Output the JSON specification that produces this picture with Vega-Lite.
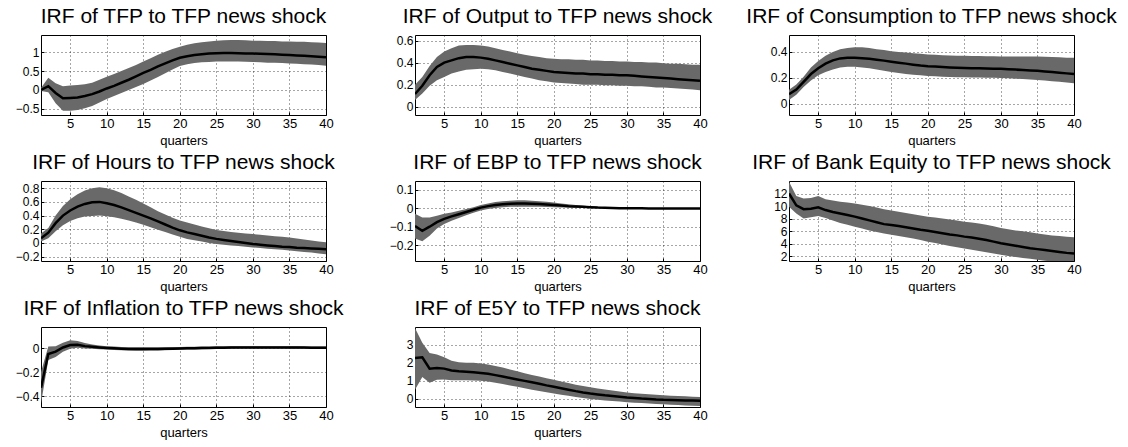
{
  "$schema": "https://vega.github.io/schema/vega-lite/v6.json",
  "padding": {"left": 14, "top": 5, "right": 0, "bottom": 0},
  "background": "white",
  "bounds": "flush",
  "columns": 3,
  "spacing": {"row": 66, "column": 89},
  "config": {
    "view": {"stroke": "black", "strokeWidth": 1},
    "font": "Liberation Sans",
    "title": {"font": "Liberation Sans", "fontSize": 21, "fontWeight": "normal", "color": "black", "offset": 8},
    "axis": {
      "domain": false, "grid": true, "gridDash": [1, 3], "gridColor": "#000", "gridOpacity": 0.7,
      "ticks": true, "tickSize": -3, "tickColor": "black", "tickCount": 12,
      "labelFont": "Liberation Sans", "labelFontSize": 13, "labelColor": "black", "labelPadding": 5, "labelFlush": false, "labelOverlap": false,
      "titleFont": "Liberation Sans", "titleFontSize": 13, "titleFontWeight": "normal", "titleColor": "black", "titlePadding": 4
    },
    "axisY": {"format": "~g", "labelPadding": 5, "labelFontSize": 12}
  },
  "datasets": {
    "tfp": [
      {"q":1,"m":0.0,"lo":-0.03,"hi":0.05},{"q":2,"m":0.1,"lo":-0.06,"hi":0.32},{"q":3,"m":-0.08,"lo":-0.35,"hi":0.18},{"q":4,"m":-0.22,"lo":-0.55,"hi":0.1},
      {"q":5,"m":-0.21,"lo":-0.55,"hi":0.12},{"q":6,"m":-0.2,"lo":-0.53,"hi":0.13},{"q":7,"m":-0.16,"lo":-0.48,"hi":0.15},{"q":8,"m":-0.11,"lo":-0.42,"hi":0.19},
      {"q":9,"m":-0.04,"lo":-0.33,"hi":0.27},{"q":10,"m":0.04,"lo":-0.24,"hi":0.35},{"q":11,"m":0.11,"lo":-0.16,"hi":0.42},{"q":12,"m":0.19,"lo":-0.08,"hi":0.5},
      {"q":13,"m":0.27,"lo":0.0,"hi":0.58},{"q":14,"m":0.36,"lo":0.08,"hi":0.66},{"q":15,"m":0.45,"lo":0.16,"hi":0.75},{"q":16,"m":0.53,"lo":0.25,"hi":0.84},
      {"q":17,"m":0.62,"lo":0.34,"hi":0.93},{"q":18,"m":0.7,"lo":0.44,"hi":1.01},{"q":19,"m":0.78,"lo":0.54,"hi":1.08},{"q":20,"m":0.85,"lo":0.63,"hi":1.14},
      {"q":21,"m":0.89,"lo":0.68,"hi":1.19},{"q":22,"m":0.92,"lo":0.71,"hi":1.23},{"q":23,"m":0.94,"lo":0.73,"hi":1.26},{"q":24,"m":0.96,"lo":0.74,"hi":1.28},
      {"q":25,"m":0.97,"lo":0.75,"hi":1.3},{"q":26,"m":0.975,"lo":0.75,"hi":1.31},{"q":27,"m":0.975,"lo":0.75,"hi":1.32},{"q":28,"m":0.97,"lo":0.75,"hi":1.32},
      {"q":29,"m":0.965,"lo":0.745,"hi":1.31},{"q":30,"m":0.96,"lo":0.74,"hi":1.3},{"q":31,"m":0.955,"lo":0.73,"hi":1.3},{"q":32,"m":0.95,"lo":0.72,"hi":1.29},
      {"q":33,"m":0.94,"lo":0.715,"hi":1.29},{"q":34,"m":0.93,"lo":0.71,"hi":1.28},{"q":35,"m":0.92,"lo":0.7,"hi":1.28},{"q":36,"m":0.91,"lo":0.69,"hi":1.27},
      {"q":37,"m":0.9,"lo":0.68,"hi":1.27},{"q":38,"m":0.89,"lo":0.67,"hi":1.26},{"q":39,"m":0.875,"lo":0.66,"hi":1.25},{"q":40,"m":0.86,"lo":0.64,"hi":1.24}
    ],
    "output": [
      {"q":1,"m":0.115,"lo":0.06,"hi":0.2},{"q":2,"m":0.19,"lo":0.12,"hi":0.27},{"q":3,"m":0.285,"lo":0.19,"hi":0.37},{"q":4,"m":0.36,"lo":0.24,"hi":0.45},
      {"q":5,"m":0.4,"lo":0.27,"hi":0.5},{"q":6,"m":0.42,"lo":0.3,"hi":0.53},{"q":7,"m":0.44,"lo":0.32,"hi":0.555},{"q":8,"m":0.45,"lo":0.335,"hi":0.56},
      {"q":9,"m":0.45,"lo":0.34,"hi":0.56},{"q":10,"m":0.445,"lo":0.345,"hi":0.555},{"q":11,"m":0.435,"lo":0.34,"hi":0.545},{"q":12,"m":0.42,"lo":0.33,"hi":0.53},
      {"q":13,"m":0.405,"lo":0.315,"hi":0.515},{"q":14,"m":0.39,"lo":0.3,"hi":0.5},{"q":15,"m":0.375,"lo":0.285,"hi":0.485},{"q":16,"m":0.36,"lo":0.27,"hi":0.47},
      {"q":17,"m":0.345,"lo":0.255,"hi":0.46},{"q":18,"m":0.335,"lo":0.24,"hi":0.45},{"q":19,"m":0.325,"lo":0.23,"hi":0.44},{"q":20,"m":0.315,"lo":0.22,"hi":0.435},
      {"q":21,"m":0.31,"lo":0.215,"hi":0.43},{"q":22,"m":0.305,"lo":0.21,"hi":0.43},{"q":23,"m":0.3,"lo":0.205,"hi":0.425},{"q":24,"m":0.3,"lo":0.2,"hi":0.425},
      {"q":25,"m":0.295,"lo":0.2,"hi":0.42},{"q":26,"m":0.295,"lo":0.2,"hi":0.42},{"q":27,"m":0.29,"lo":0.195,"hi":0.415},{"q":28,"m":0.29,"lo":0.195,"hi":0.415},
      {"q":29,"m":0.285,"lo":0.19,"hi":0.41},{"q":30,"m":0.285,"lo":0.19,"hi":0.41},{"q":31,"m":0.28,"lo":0.185,"hi":0.405},{"q":32,"m":0.275,"lo":0.185,"hi":0.405},
      {"q":33,"m":0.27,"lo":0.18,"hi":0.4},{"q":34,"m":0.265,"lo":0.175,"hi":0.4},{"q":35,"m":0.26,"lo":0.175,"hi":0.395},{"q":36,"m":0.255,"lo":0.17,"hi":0.39},
      {"q":37,"m":0.25,"lo":0.165,"hi":0.39},{"q":38,"m":0.245,"lo":0.16,"hi":0.385},{"q":39,"m":0.24,"lo":0.155,"hi":0.38},{"q":40,"m":0.235,"lo":0.15,"hi":0.38}
    ],
    "cons": [
      {"q":1,"m":0.075,"lo":0.03,"hi":0.11},{"q":2,"m":0.11,"lo":0.07,"hi":0.15},{"q":3,"m":0.17,"lo":0.13,"hi":0.21},{"q":4,"m":0.23,"lo":0.18,"hi":0.28},
      {"q":5,"m":0.275,"lo":0.22,"hi":0.33},{"q":6,"m":0.31,"lo":0.245,"hi":0.37},{"q":7,"m":0.335,"lo":0.265,"hi":0.4},{"q":8,"m":0.35,"lo":0.28,"hi":0.42},
      {"q":9,"m":0.355,"lo":0.285,"hi":0.43},{"q":10,"m":0.355,"lo":0.285,"hi":0.435},{"q":11,"m":0.352,"lo":0.28,"hi":0.435},{"q":12,"m":0.347,"lo":0.275,"hi":0.43},
      {"q":13,"m":0.34,"lo":0.265,"hi":0.42},{"q":14,"m":0.333,"lo":0.255,"hi":0.415},{"q":15,"m":0.325,"lo":0.245,"hi":0.405},{"q":16,"m":0.317,"lo":0.237,"hi":0.4},
      {"q":17,"m":0.31,"lo":0.23,"hi":0.395},{"q":18,"m":0.302,"lo":0.225,"hi":0.39},{"q":19,"m":0.295,"lo":0.22,"hi":0.385},{"q":20,"m":0.29,"lo":0.215,"hi":0.38},
      {"q":21,"m":0.287,"lo":0.212,"hi":0.378},{"q":22,"m":0.284,"lo":0.21,"hi":0.375},{"q":23,"m":0.281,"lo":0.208,"hi":0.372},{"q":24,"m":0.278,"lo":0.206,"hi":0.37},
      {"q":25,"m":0.276,"lo":0.205,"hi":0.37},{"q":26,"m":0.275,"lo":0.204,"hi":0.369},{"q":27,"m":0.274,"lo":0.203,"hi":0.368},{"q":28,"m":0.272,"lo":0.202,"hi":0.367},
      {"q":29,"m":0.271,"lo":0.201,"hi":0.366},{"q":30,"m":0.27,"lo":0.2,"hi":0.365},{"q":31,"m":0.267,"lo":0.197,"hi":0.365},{"q":32,"m":0.264,"lo":0.194,"hi":0.365},
      {"q":33,"m":0.261,"lo":0.191,"hi":0.365},{"q":34,"m":0.258,"lo":0.188,"hi":0.365},{"q":35,"m":0.255,"lo":0.185,"hi":0.364},{"q":36,"m":0.25,"lo":0.18,"hi":0.362},
      {"q":37,"m":0.245,"lo":0.175,"hi":0.36},{"q":38,"m":0.24,"lo":0.17,"hi":0.358},{"q":39,"m":0.235,"lo":0.165,"hi":0.356},{"q":40,"m":0.23,"lo":0.16,"hi":0.355}
    ],
    "hours": [
      {"q":1,"m":0.07,"lo":0.02,"hi":0.14},{"q":2,"m":0.15,"lo":0.07,"hi":0.22},{"q":3,"m":0.29,"lo":0.17,"hi":0.4},{"q":4,"m":0.4,"lo":0.26,"hi":0.54},
      {"q":5,"m":0.475,"lo":0.32,"hi":0.64},{"q":6,"m":0.53,"lo":0.36,"hi":0.71},{"q":7,"m":0.57,"lo":0.385,"hi":0.765},{"q":8,"m":0.595,"lo":0.395,"hi":0.8},
      {"q":9,"m":0.6,"lo":0.4,"hi":0.815},{"q":10,"m":0.58,"lo":0.39,"hi":0.8},{"q":11,"m":0.555,"lo":0.375,"hi":0.77},{"q":12,"m":0.52,"lo":0.355,"hi":0.73},
      {"q":13,"m":0.48,"lo":0.33,"hi":0.68},{"q":14,"m":0.44,"lo":0.3,"hi":0.63},{"q":15,"m":0.4,"lo":0.265,"hi":0.575},{"q":16,"m":0.36,"lo":0.23,"hi":0.52},
      {"q":17,"m":0.315,"lo":0.195,"hi":0.465},{"q":18,"m":0.27,"lo":0.16,"hi":0.415},{"q":19,"m":0.225,"lo":0.125,"hi":0.37},{"q":20,"m":0.185,"lo":0.09,"hi":0.33},
      {"q":21,"m":0.155,"lo":0.06,"hi":0.3},{"q":22,"m":0.13,"lo":0.04,"hi":0.27},{"q":23,"m":0.105,"lo":0.02,"hi":0.24},{"q":24,"m":0.08,"lo":0.0,"hi":0.215},
      {"q":25,"m":0.06,"lo":-0.015,"hi":0.19},{"q":26,"m":0.045,"lo":-0.025,"hi":0.175},{"q":27,"m":0.03,"lo":-0.035,"hi":0.16},{"q":28,"m":0.015,"lo":-0.045,"hi":0.15},
      {"q":29,"m":0.0,"lo":-0.055,"hi":0.14},{"q":30,"m":-0.015,"lo":-0.065,"hi":0.13},{"q":31,"m":-0.025,"lo":-0.075,"hi":0.12},{"q":32,"m":-0.035,"lo":-0.085,"hi":0.11},
      {"q":33,"m":-0.045,"lo":-0.09,"hi":0.1},{"q":34,"m":-0.055,"lo":-0.1,"hi":0.09},{"q":35,"m":-0.06,"lo":-0.11,"hi":0.08},{"q":36,"m":-0.07,"lo":-0.12,"hi":0.065},
      {"q":37,"m":-0.075,"lo":-0.13,"hi":0.05},{"q":38,"m":-0.08,"lo":-0.14,"hi":0.035},{"q":39,"m":-0.085,"lo":-0.155,"hi":0.02},{"q":40,"m":-0.09,"lo":-0.165,"hi":0.01}
    ],
    "ebp": [
      {"q":1,"m":-0.096,"lo":-0.165,"hi":-0.03},{"q":2,"m":-0.122,"lo":-0.18,"hi":-0.05},{"q":3,"m":-0.1,"lo":-0.15,"hi":-0.05},{"q":4,"m":-0.075,"lo":-0.11,"hi":-0.04},
      {"q":5,"m":-0.057,"lo":-0.085,"hi":-0.03},{"q":6,"m":-0.044,"lo":-0.068,"hi":-0.022},{"q":7,"m":-0.032,"lo":-0.053,"hi":-0.013},{"q":8,"m":-0.02,"lo":-0.038,"hi":-0.004},
      {"q":9,"m":-0.008,"lo":-0.024,"hi":0.006},{"q":10,"m":0.004,"lo":-0.012,"hi":0.018},{"q":11,"m":0.012,"lo":-0.004,"hi":0.027},{"q":12,"m":0.018,"lo":0.002,"hi":0.034},
      {"q":13,"m":0.022,"lo":0.006,"hi":0.039},{"q":14,"m":0.025,"lo":0.008,"hi":0.042},{"q":15,"m":0.026,"lo":0.009,"hi":0.044},{"q":16,"m":0.026,"lo":0.009,"hi":0.044},
      {"q":17,"m":0.025,"lo":0.009,"hi":0.042},{"q":18,"m":0.023,"lo":0.008,"hi":0.039},{"q":19,"m":0.021,"lo":0.007,"hi":0.036},{"q":20,"m":0.018,"lo":0.006,"hi":0.032},
      {"q":21,"m":0.015,"lo":0.005,"hi":0.027},{"q":22,"m":0.012,"lo":0.004,"hi":0.022},{"q":23,"m":0.01,"lo":0.003,"hi":0.018},{"q":24,"m":0.008,"lo":0.002,"hi":0.014},
      {"q":25,"m":0.006,"lo":0.001,"hi":0.011},{"q":26,"m":0.004,"lo":0.0,"hi":0.008},{"q":27,"m":0.003,"lo":-0.001,"hi":0.006},{"q":28,"m":0.002,"lo":-0.001,"hi":0.005},
      {"q":29,"m":0.001,"lo":-0.002,"hi":0.004},{"q":30,"m":0.0,"lo":-0.002,"hi":0.003},{"q":31,"m":0.0,"lo":-0.002,"hi":0.003},{"q":32,"m":0.0,"lo":-0.002,"hi":0.002},
      {"q":33,"m":-0.001,"lo":-0.003,"hi":0.002},{"q":34,"m":-0.001,"lo":-0.003,"hi":0.002},{"q":35,"m":-0.001,"lo":-0.003,"hi":0.002},{"q":36,"m":-0.001,"lo":-0.003,"hi":0.002},
      {"q":37,"m":-0.001,"lo":-0.003,"hi":0.002},{"q":38,"m":-0.001,"lo":-0.003,"hi":0.002},{"q":39,"m":-0.001,"lo":-0.003,"hi":0.002},{"q":40,"m":-0.001,"lo":-0.003,"hi":0.002}
    ],
    "bank": [
      {"q":1,"m":12.0,"lo":9.9,"hi":13.9},{"q":2,"m":10.1,"lo":8.8,"hi":11.6},{"q":3,"m":9.5,"lo":8.0,"hi":11.2},{"q":4,"m":9.55,"lo":8.2,"hi":11.3},
      {"q":5,"m":9.8,"lo":8.4,"hi":11.6},{"q":6,"m":9.35,"lo":8.1,"hi":11.1},{"q":7,"m":9.05,"lo":7.7,"hi":10.9},{"q":8,"m":8.8,"lo":7.3,"hi":10.7},
      {"q":9,"m":8.55,"lo":7.0,"hi":10.55},{"q":10,"m":8.3,"lo":6.7,"hi":10.4},{"q":11,"m":8.0,"lo":6.4,"hi":10.2},{"q":12,"m":7.7,"lo":6.1,"hi":10.0},
      {"q":13,"m":7.4,"lo":5.85,"hi":9.75},{"q":14,"m":7.1,"lo":5.6,"hi":9.5},{"q":15,"m":6.95,"lo":5.4,"hi":9.3},{"q":16,"m":6.8,"lo":5.2,"hi":9.1},
      {"q":17,"m":6.6,"lo":5.0,"hi":8.9},{"q":18,"m":6.4,"lo":4.8,"hi":8.7},{"q":19,"m":6.2,"lo":4.55,"hi":8.5},{"q":20,"m":6.05,"lo":4.3,"hi":8.3},
      {"q":21,"m":5.85,"lo":4.1,"hi":8.15},{"q":22,"m":5.65,"lo":3.85,"hi":8.0},{"q":23,"m":5.45,"lo":3.6,"hi":7.85},{"q":24,"m":5.3,"lo":3.4,"hi":7.7},
      {"q":25,"m":5.1,"lo":3.2,"hi":7.5},{"q":26,"m":4.95,"lo":3.0,"hi":7.35},{"q":27,"m":4.75,"lo":2.8,"hi":7.2},{"q":28,"m":4.55,"lo":2.6,"hi":7.0},
      {"q":29,"m":4.3,"lo":2.4,"hi":6.75},{"q":30,"m":4.05,"lo":2.2,"hi":6.5},{"q":31,"m":3.85,"lo":2.0,"hi":6.3},{"q":32,"m":3.65,"lo":1.85,"hi":6.1},
      {"q":33,"m":3.45,"lo":1.7,"hi":5.95},{"q":34,"m":3.25,"lo":1.55,"hi":5.8},{"q":35,"m":3.1,"lo":1.4,"hi":5.6},{"q":36,"m":2.95,"lo":1.25,"hi":5.45},
      {"q":37,"m":2.8,"lo":1.1,"hi":5.3},{"q":38,"m":2.65,"lo":0.95,"hi":5.2},{"q":39,"m":2.5,"lo":0.85,"hi":5.1},{"q":40,"m":2.4,"lo":0.75,"hi":5.0}
    ],
    "infl": [
      {"q":1,"m":-0.33,"lo":-0.46,"hi":-0.2},{"q":2,"m":-0.05,"lo":-0.1,"hi":0.012},{"q":3,"m":-0.03,"lo":-0.075,"hi":0.015},{"q":4,"m":0.005,"lo":-0.03,"hi":0.045},
      {"q":5,"m":0.025,"lo":-0.005,"hi":0.065},{"q":6,"m":0.027,"lo":0.003,"hi":0.058},{"q":7,"m":0.016,"lo":-0.003,"hi":0.042},{"q":8,"m":0.01,"lo":-0.006,"hi":0.03},
      {"q":9,"m":0.005,"lo":-0.01,"hi":0.022},{"q":10,"m":0.001,"lo":-0.013,"hi":0.016},{"q":11,"m":-0.002,"lo":-0.016,"hi":0.012},{"q":12,"m":-0.005,"lo":-0.019,"hi":0.009},
      {"q":13,"m":-0.007,"lo":-0.021,"hi":0.007},{"q":14,"m":-0.008,"lo":-0.022,"hi":0.006},{"q":15,"m":-0.008,"lo":-0.022,"hi":0.006},{"q":16,"m":-0.008,"lo":-0.021,"hi":0.006},
      {"q":17,"m":-0.007,"lo":-0.02,"hi":0.006},{"q":18,"m":-0.006,"lo":-0.018,"hi":0.007},{"q":19,"m":-0.005,"lo":-0.016,"hi":0.008},{"q":20,"m":-0.003,"lo":-0.014,"hi":0.009},
      {"q":21,"m":-0.002,"lo":-0.012,"hi":0.01},{"q":22,"m":-0.001,"lo":-0.011,"hi":0.011},{"q":23,"m":0.0,"lo":-0.009,"hi":0.012},{"q":24,"m":0.001,"lo":-0.008,"hi":0.013},
      {"q":25,"m":0.002,"lo":-0.007,"hi":0.014},{"q":26,"m":0.003,"lo":-0.006,"hi":0.015},{"q":27,"m":0.004,"lo":-0.005,"hi":0.015},{"q":28,"m":0.004,"lo":-0.004,"hi":0.016},
      {"q":29,"m":0.005,"lo":-0.004,"hi":0.016},{"q":30,"m":0.005,"lo":-0.003,"hi":0.016},{"q":31,"m":0.005,"lo":-0.003,"hi":0.016},{"q":32,"m":0.005,"lo":-0.004,"hi":0.016},
      {"q":33,"m":0.005,"lo":-0.004,"hi":0.015},{"q":34,"m":0.004,"lo":-0.004,"hi":0.015},{"q":35,"m":0.004,"lo":-0.005,"hi":0.014},{"q":36,"m":0.004,"lo":-0.005,"hi":0.014},
      {"q":37,"m":0.004,"lo":-0.005,"hi":0.013},{"q":38,"m":0.003,"lo":-0.006,"hi":0.013},{"q":39,"m":0.003,"lo":-0.006,"hi":0.012},{"q":40,"m":0.003,"lo":-0.006,"hi":0.012}
    ],
    "e5y": [
      {"q":1,"m":2.26,"lo":0.5,"hi":3.93},{"q":2,"m":2.3,"lo":1.2,"hi":3.1},{"q":3,"m":1.67,"lo":0.88,"hi":2.54},{"q":4,"m":1.7,"lo":1.05,"hi":2.45},
      {"q":5,"m":1.67,"lo":1.07,"hi":2.3},{"q":6,"m":1.57,"lo":1.03,"hi":2.1},{"q":7,"m":1.52,"lo":1.02,"hi":2.03},{"q":8,"m":1.5,"lo":1.02,"hi":2.0},
      {"q":9,"m":1.47,"lo":1.01,"hi":1.99},{"q":10,"m":1.43,"lo":0.99,"hi":1.96},{"q":11,"m":1.38,"lo":0.95,"hi":1.9},{"q":12,"m":1.31,"lo":0.89,"hi":1.82},
      {"q":13,"m":1.23,"lo":0.82,"hi":1.73},{"q":14,"m":1.15,"lo":0.74,"hi":1.62},{"q":15,"m":1.07,"lo":0.66,"hi":1.52},{"q":16,"m":0.99,"lo":0.58,"hi":1.42},
      {"q":17,"m":0.91,"lo":0.5,"hi":1.32},{"q":18,"m":0.83,"lo":0.43,"hi":1.23},{"q":19,"m":0.74,"lo":0.36,"hi":1.14},{"q":20,"m":0.66,"lo":0.29,"hi":1.05},
      {"q":21,"m":0.58,"lo":0.22,"hi":0.96},{"q":22,"m":0.5,"lo":0.16,"hi":0.87},{"q":23,"m":0.42,"lo":0.1,"hi":0.78},{"q":24,"m":0.35,"lo":0.04,"hi":0.7},
      {"q":25,"m":0.29,"lo":-0.01,"hi":0.63},{"q":26,"m":0.24,"lo":-0.06,"hi":0.57},{"q":27,"m":0.19,"lo":-0.1,"hi":0.51},{"q":28,"m":0.15,"lo":-0.13,"hi":0.45},
      {"q":29,"m":0.11,"lo":-0.16,"hi":0.4},{"q":30,"m":0.07,"lo":-0.19,"hi":0.35},{"q":31,"m":0.04,"lo":-0.22,"hi":0.31},{"q":32,"m":0.01,"lo":-0.24,"hi":0.28},
      {"q":33,"m":-0.01,"lo":-0.27,"hi":0.25},{"q":34,"m":-0.04,"lo":-0.29,"hi":0.22},{"q":35,"m":-0.06,"lo":-0.31,"hi":0.19},{"q":36,"m":-0.07,"lo":-0.33,"hi":0.17},
      {"q":37,"m":-0.085,"lo":-0.35,"hi":0.15},{"q":38,"m":-0.095,"lo":-0.37,"hi":0.13},{"q":39,"m":-0.105,"lo":-0.39,"hi":0.11},{"q":40,"m":-0.11,"lo":-0.41,"hi":0.1}
    ]
  },
  "concat": [
    {
      "title": "IRF of TFP to TFP news shock", "width": 285, "height": 80, "data": {"name": "tfp"},
      "encoding": {"x": {"field": "q", "type": "quantitative", "scale": {"domain": [1, 40], "nice": false, "zero": false}, "axis": {"title": "quarters", "values": [5,10,15,20,25,30,35,40]}}},
      "layer": [
        {"mark": {"type": "area", "color": "#696969", "opacity": 1, "clip": true}, "encoding": {"y": {"field": "lo", "type": "quantitative", "scale": {"domain": [-0.66, 1.45], "nice": false, "zero": false}, "axis": {"title": null, "values": [-0.5, 0, 0.5, 1]}}, "y2": {"field": "hi"}}},
        {"mark": {"type": "line", "color": "black", "strokeWidth": 2.5, "clip": true}, "encoding": {"y": {"field": "m", "type": "quantitative"}}}
      ]
    },
    {
      "title": "IRF of Output to TFP news shock", "width": 285, "height": 80, "data": {"name": "output"},
      "encoding": {"x": {"field": "q", "type": "quantitative", "scale": {"domain": [1, 40], "nice": false, "zero": false}, "axis": {"title": "quarters", "values": [5,10,15,20,25,30,35,40]}}},
      "layer": [
        {"mark": {"type": "area", "color": "#696969", "opacity": 1, "clip": true}, "encoding": {"y": {"field": "lo", "type": "quantitative", "scale": {"domain": [-0.075, 0.65], "nice": false, "zero": false}, "axis": {"title": null, "values": [0, 0.2, 0.4, 0.6]}}, "y2": {"field": "hi"}}},
        {"mark": {"type": "line", "color": "black", "strokeWidth": 2.5, "clip": true}, "encoding": {"y": {"field": "m", "type": "quantitative"}}}
      ]
    },
    {
      "title": "IRF of Consumption to TFP news shock", "width": 285, "height": 80, "data": {"name": "cons"},
      "encoding": {"x": {"field": "q", "type": "quantitative", "scale": {"domain": [1, 40], "nice": false, "zero": false}, "axis": {"title": "quarters", "values": [5,10,15,20,25,30,35,40]}}},
      "layer": [
        {"mark": {"type": "area", "color": "#696969", "opacity": 1, "clip": true}, "encoding": {"y": {"field": "lo", "type": "quantitative", "scale": {"domain": [-0.085, 0.53], "nice": false, "zero": false}, "axis": {"title": null, "values": [0, 0.2, 0.4]}}, "y2": {"field": "hi"}}},
        {"mark": {"type": "line", "color": "black", "strokeWidth": 2.5, "clip": true}, "encoding": {"y": {"field": "m", "type": "quantitative"}}}
      ]
    },
    {
      "title": "IRF of Hours to TFP news shock", "width": 285, "height": 80, "data": {"name": "hours"},
      "encoding": {"x": {"field": "q", "type": "quantitative", "scale": {"domain": [1, 40], "nice": false, "zero": false}, "axis": {"title": "quarters", "values": [5,10,15,20,25,30,35,40]}}},
      "layer": [
        {"mark": {"type": "area", "color": "#696969", "opacity": 1, "clip": true}, "encoding": {"y": {"field": "lo", "type": "quantitative", "scale": {"domain": [-0.263, 0.905], "nice": false, "zero": false}, "axis": {"title": null, "values": [-0.2, 0, 0.2, 0.4, 0.6, 0.8]}}, "y2": {"field": "hi"}}},
        {"mark": {"type": "line", "color": "black", "strokeWidth": 2.5, "clip": true}, "encoding": {"y": {"field": "m", "type": "quantitative"}}}
      ]
    },
    {
      "title": "IRF of EBP to TFP news shock", "width": 285, "height": 80, "data": {"name": "ebp"},
      "encoding": {"x": {"field": "q", "type": "quantitative", "scale": {"domain": [1, 40], "nice": false, "zero": false}, "axis": {"title": "quarters", "values": [5,10,15,20,25,30,35,40]}}},
      "layer": [
        {"mark": {"type": "area", "color": "#696969", "opacity": 1, "clip": true}, "encoding": {"y": {"field": "lo", "type": "quantitative", "scale": {"domain": [-0.287, 0.149], "nice": false, "zero": false}, "axis": {"title": null, "values": [-0.2, -0.1, 0, 0.1]}}, "y2": {"field": "hi"}}},
        {"mark": {"type": "line", "color": "black", "strokeWidth": 2.5, "clip": true}, "encoding": {"y": {"field": "m", "type": "quantitative"}}}
      ]
    },
    {
      "title": "IRF of Bank Equity to TFP news shock", "width": 285, "height": 80, "data": {"name": "bank"},
      "encoding": {"x": {"field": "q", "type": "quantitative", "scale": {"domain": [1, 40], "nice": false, "zero": false}, "axis": {"title": "quarters", "values": [5,10,15,20,25,30,35,40]}}},
      "layer": [
        {"mark": {"type": "area", "color": "#696969", "opacity": 1, "clip": true}, "encoding": {"y": {"field": "lo", "type": "quantitative", "scale": {"domain": [1.2, 14], "nice": false, "zero": false}, "axis": {"title": null, "values": [2, 4, 6, 8, 10, 12]}}, "y2": {"field": "hi"}}},
        {"mark": {"type": "line", "color": "black", "strokeWidth": 2.5, "clip": true}, "encoding": {"y": {"field": "m", "type": "quantitative"}}}
      ]
    },
    {
      "title": "IRF of Inflation to TFP news shock", "width": 285, "height": 80, "data": {"name": "infl"},
      "encoding": {"x": {"field": "q", "type": "quantitative", "scale": {"domain": [1, 40], "nice": false, "zero": false}, "axis": {"title": "quarters", "values": [5,10,15,20,25,30,35,40]}}},
      "layer": [
        {"mark": {"type": "area", "color": "#696969", "opacity": 1, "clip": true}, "encoding": {"y": {"field": "lo", "type": "quantitative", "scale": {"domain": [-0.49, 0.175], "nice": false, "zero": false}, "axis": {"title": null, "values": [-0.4, -0.2, 0]}}, "y2": {"field": "hi"}}},
        {"mark": {"type": "line", "color": "black", "strokeWidth": 2.5, "clip": true}, "encoding": {"y": {"field": "m", "type": "quantitative"}}}
      ]
    },
    {
      "title": "IRF of E5Y to TFP news shock", "width": 285, "height": 80, "data": {"name": "e5y"},
      "encoding": {"x": {"field": "q", "type": "quantitative", "scale": {"domain": [1, 40], "nice": false, "zero": false}, "axis": {"title": "quarters", "values": [5,10,15,20,25,30,35,40]}}},
      "layer": [
        {"mark": {"type": "area", "color": "#696969", "opacity": 1, "clip": true}, "encoding": {"y": {"field": "lo", "type": "quantitative", "scale": {"domain": [-0.46, 3.98], "nice": false, "zero": false}, "axis": {"title": null, "values": [0, 1, 2, 3]}}, "y2": {"field": "hi"}}},
        {"mark": {"type": "line", "color": "black", "strokeWidth": 2.5, "clip": true}, "encoding": {"y": {"field": "m", "type": "quantitative"}}}
      ]
    }
  ]
}
